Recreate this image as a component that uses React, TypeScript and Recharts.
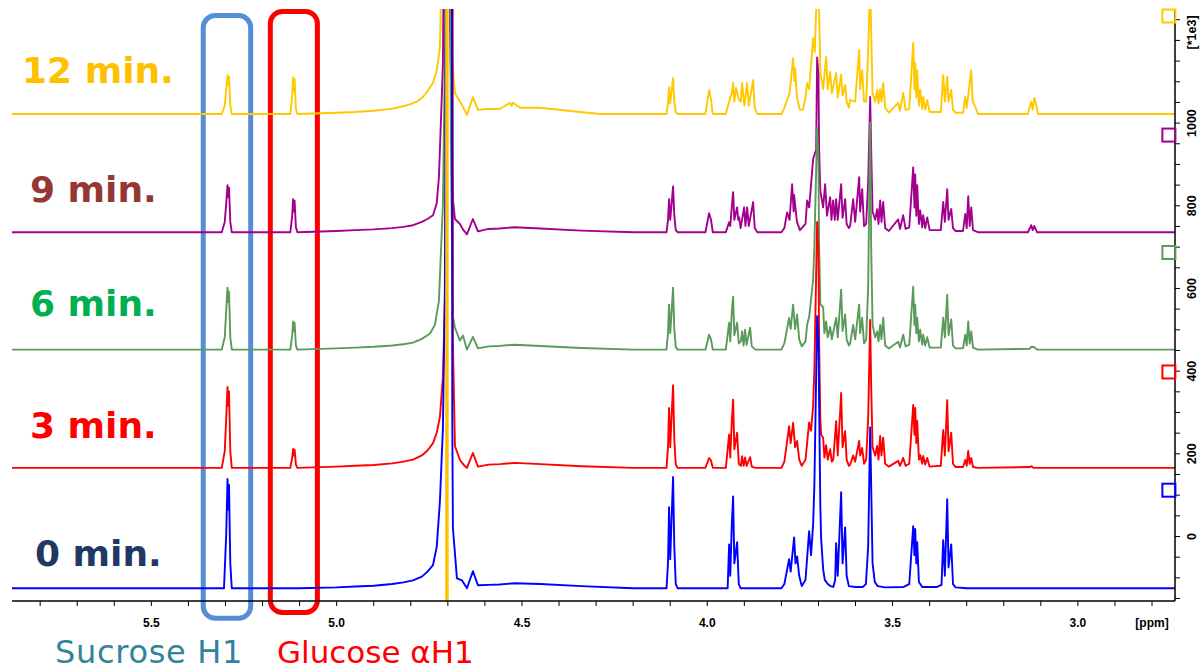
import { LineChart, Line, XAxis, YAxis, ReferenceLine, ReferenceArea, ReferenceDot } from 'recharts';

type Pt = [number, number];

// [ppm, intensity above own baseline] (*1e3)
const SPEC_0MIN: Pt[] = [
  [5.876, 0], [5.5, 0], [5.31, 0], [5.304, 0], [5.298, 130], [5.2945, 264], [5.2925, 190], [5.2905, 250], [5.287, 60], [5.283, 0],
  [5.1, 0], [5.0, 2], [4.95, 4], [4.9, 6], [4.85, 10], [4.82, 14], [4.794, 19], [4.77, 28], [4.755, 40], [4.74, 56], [4.73, 100],
  [4.7214, 210], [4.7133, 387], [4.708, 730], [4.697, 4000], [4.691, 4000],
  [4.688, 400], [4.6863, 145], [4.6755, 24], [4.662, 19], [4.6485, 0], [4.6323, 41], [4.6188, 7], [4.59, 8], [4.56, 9], [4.52, 12], [4.45, 10], [4.34, 5], [4.2, 0],
  [4.13, 0], [4.11, 0], [4.106, 60], [4.1031, 196], [4.1, 70], [4.097, 150], [4.0923, 269], [4.089, 100], [4.085, 10], [4.08, 0],
  [3.96, 0], [3.945, 0], [3.9411, 106], [3.938, 30], [3.934, 150], [3.9303, 222], [3.927, 60], [3.9195, 111], [3.915, 10], [3.91, 0],
  [3.8, 0], [3.792, 10], [3.7792, 70], [3.775, 40], [3.7657, 123], [3.762, 60], [3.7576, 77], [3.752, 30], [3.745, 5],
  [3.735, 20], [3.7252, 138], [3.72, 80], [3.7144, 155], [3.711, 250], [3.7036, 658], [3.7, 600], [3.6982, 450], [3.695, 200], [3.6928, 120],
  [3.6874, 46], [3.683, 20], [3.675, 10], [3.668, 5],
  [3.66, 3], [3.655, 20], [3.6523, 109], [3.648, 30], [3.6388, 232], [3.635, 60], [3.628, 147], [3.624, 30], [3.618, 5], [3.6, 3],
  [3.58, 3], [3.572, 10], [3.5659, 100], [3.5605, 389], [3.5578, 250], [3.554, 60], [3.548, 15], [3.54, 5], [3.52, 2],
  [3.47, 3], [3.455, 10], [3.4444, 150], [3.441, 80], [3.439, 143], [3.436, 60], [3.4336, 111], [3.429, 15], [3.42, 3],
  [3.38, 3], [3.368, 8], [3.3634, 116], [3.359, 30], [3.3526, 215], [3.349, 50], [3.3418, 106], [3.337, 10], [3.33, 2], [3.3, 0], [2.737, 0],
];

const SPEC_3MIN: Pt[] = [
  [5.876, 0], [5.5, 0], [5.31, 0], [5.302, 40], [5.298, 120], [5.2945, 196], [5.2925, 150], [5.2905, 185], [5.287, 40], [5.283, 0],
  [5.125, 0], [5.12, 25], [5.1175, 46], [5.1155, 30], [5.1135, 44], [5.11, 8], [5.106, 0],
  [5.0, 3], [4.95, 5], [4.9, 7], [4.85, 11], [4.82, 15], [4.794, 20], [4.77, 30], [4.755, 42], [4.74, 60], [4.73, 85],
  [4.7214, 123], [4.7133, 220], [4.705, 500], [4.694, 4000], [4.689, 4000], [4.6863, 300],
  [4.6809, 53], [4.6674, 19], [4.655, 5], [4.6485, 0], [4.6323, 36], [4.6188, 3], [4.59, 8], [4.56, 9], [4.52, 12], [4.45, 9], [4.34, 4], [4.2, 0],
  [4.13, 0], [4.11, 0], [4.106, 50], [4.1031, 145], [4.1, 50], [4.097, 110], [4.0923, 200], [4.089, 70], [4.085, 8], [4.08, 0],
  [4.005, 0], [3.9951, 24], [3.99, 18], [3.985, 0],
  [3.95, 0], [3.9411, 80], [3.938, 25], [3.934, 110], [3.9303, 165], [3.927, 45], [3.9195, 85], [3.915, 10],
  [3.9095, 5], [3.906, 28], [3.902, 5], [3.898, 25], [3.894, 5], [3.8844, 26], [3.88, 3], [3.87, 0],
  [3.8, 0], [3.792, 15], [3.7792, 101], [3.775, 60], [3.7684, 109], [3.763, 50], [3.7576, 65], [3.752, 20], [3.745, 5],
  [3.735, 20], [3.7252, 110], [3.72, 90], [3.7144, 150], [3.711, 240], [3.7036, 595], [3.7, 520], [3.6982, 300], [3.695, 120], [3.6928, 80],
  [3.6874, 73], [3.684, 25], [3.6793, 55], [3.675, 20], [3.6685, 45], [3.664, 15], [3.66, 20],
  [3.6523, 113], [3.648, 30], [3.6388, 181], [3.635, 50], [3.628, 89], [3.624, 20], [3.618, 5],
  [3.6145, 8], [3.6064, 30], [3.601, 15], [3.5902, 65], [3.5875, 30], [3.5821, 48], [3.577, 10],
  [3.5713, 20], [3.5659, 120], [3.5605, 358], [3.5578, 200], [3.554, 50], [3.547, 30],
  [3.5416, 53], [3.538, 20], [3.5335, 77], [3.53, 30], [3.5254, 73], [3.52, 10], [3.51, 3],
  [3.4849, 17], [3.48, 5], [3.4714, 24], [3.465, 5],
  [3.455, 10], [3.4444, 152], [3.441, 80], [3.439, 145], [3.436, 60], [3.4336, 114], [3.429, 20],
  [3.4255, 31], [3.42, 10], [3.4174, 29], [3.412, 8], [3.4066, 24], [3.4, 3],
  [3.37, 5], [3.3634, 92], [3.359, 30], [3.3526, 164], [3.349, 40], [3.3418, 85], [3.337, 10], [3.33, 2],
  [3.31, 2], [3.304, 19], [3.3, 5], [3.2959, 41], [3.292, 10], [3.2878, 24], [3.283, 2], [3.27, 0],
  [3.13, 2], [3.125, 4], [3.12, 0], [2.737, 0],
];

const SPEC_6MIN: Pt[] = [
  [5.876, 0], [5.5, 0], [5.31, 0], [5.302, 30], [5.298, 95], [5.2945, 150], [5.2925, 115], [5.2905, 140], [5.287, 30], [5.283, 0],
  [5.125, 0], [5.12, 35], [5.1175, 68], [5.1155, 45], [5.1135, 65], [5.11, 10], [5.106, 0],
  [5.0, 3], [4.95, 5], [4.9, 7], [4.85, 10], [4.82, 13], [4.794, 17], [4.77, 26], [4.748, 39], [4.735, 60], [4.7241, 118],
  [4.7133, 353], [4.708, 700], [4.704, 4000], [4.697, 4000], [4.692, 500],
  [4.6863, 80], [4.6809, 53], [4.6674, 22], [4.6593, 34], [4.6485, 0], [4.6323, 31], [4.6188, 3], [4.59, 8], [4.56, 9], [4.52, 12], [4.45, 9], [4.34, 4], [4.2, 0],
  [4.13, 0], [4.11, 0], [4.106, 40], [4.1031, 109], [4.1, 40], [4.097, 80], [4.0923, 150], [4.089, 50], [4.085, 6], [4.08, 0],
  [4.005, 0], [3.9951, 36], [3.99, 25], [3.985, 0],
  [3.95, 0], [3.9411, 65], [3.938, 20], [3.934, 90], [3.9303, 128], [3.927, 35], [3.9195, 65], [3.915, 15],
  [3.9095, 20], [3.906, 44], [3.902, 10], [3.898, 48], [3.894, 12], [3.8844, 53], [3.88, 8], [3.87, 0],
  [3.8, 0], [3.792, 15], [3.7792, 77], [3.775, 50], [3.7684, 109], [3.763, 50], [3.7576, 85], [3.752, 25], [3.745, 8],
  [3.735, 20], [3.7306, 60], [3.725, 80], [3.7144, 169], [3.711, 250], [3.7036, 537], [3.7, 450], [3.6982, 250], [3.695, 110],
  [3.6874, 102], [3.684, 40], [3.6793, 68], [3.675, 30], [3.6685, 55], [3.664, 25],
  [3.6523, 77], [3.648, 30], [3.6388, 145], [3.635, 45], [3.628, 85], [3.624, 25], [3.618, 10],
  [3.6145, 15], [3.6064, 60], [3.601, 25], [3.5902, 109], [3.5875, 40], [3.5821, 77], [3.577, 15],
  [3.5713, 25], [3.5659, 150], [3.5605, 549], [3.5578, 250], [3.554, 60], [3.547, 30],
  [3.5416, 44], [3.538, 20], [3.5335, 60], [3.53, 25], [3.5254, 77], [3.52, 10], [3.51, 3],
  [3.4849, 19], [3.48, 5], [3.4714, 36], [3.465, 8],
  [3.455, 12], [3.4444, 152], [3.441, 60], [3.439, 109], [3.436, 40], [3.4336, 77], [3.429, 20],
  [3.4255, 48], [3.42, 12], [3.4174, 36], [3.412, 10], [3.4066, 30], [3.4, 5],
  [3.37, 5], [3.3634, 77], [3.359, 30], [3.3526, 133], [3.349, 35], [3.3418, 73], [3.337, 10], [3.33, 3],
  [3.31, 3], [3.304, 36], [3.3, 10], [3.2959, 68], [3.292, 15], [3.2878, 44], [3.283, 5], [3.27, 0],
  [3.13, 2], [3.1258, 7], [3.1177, 6], [3.11, 0], [2.737, 0],
];

const SPEC_9MIN: Pt[] = [
  [5.876, 0], [5.5, 0], [5.31, 0], [5.302, 25], [5.298, 70], [5.2945, 114], [5.2925, 85], [5.2905, 108], [5.287, 25], [5.283, 0],
  [5.125, 0], [5.12, 40], [5.1175, 80], [5.1155, 50], [5.1135, 76], [5.11, 12], [5.106, 0],
  [5.0, 3], [4.95, 5], [4.9, 7], [4.85, 10], [4.82, 13], [4.794, 17], [4.77, 25], [4.755, 32], [4.74, 41], [4.73, 70],
  [4.7241, 133], [4.7133, 404], [4.71, 800], [4.707, 4000], [4.7, 4000], [4.694, 500],
  [4.6863, 80], [4.6809, 32], [4.6674, 20], [4.6593, 7], [4.6485, -5], [4.6323, 32], [4.6188, 2], [4.59, 8], [4.56, 9], [4.52, 12], [4.45, 9], [4.34, 4], [4.2, 0],
  [4.13, 0], [4.11, 0], [4.106, 30], [4.1031, 80], [4.1, 30], [4.097, 60], [4.0923, 111], [4.089, 40], [4.085, 5], [4.08, 0],
  [4.005, 0], [3.9951, 46], [3.99, 30], [3.985, 0],
  [3.95, 0], [3.9411, 24], [3.938, 15], [3.934, 60], [3.9303, 97], [3.927, 30], [3.9195, 60], [3.9165, 30], [3.9141, 36], [3.91, 10],
  [3.9006, 60], [3.897, 15], [3.8925, 60], [3.888, 15], [3.8763, 73], [3.872, 10], [3.865, 0],
  [3.8, 0], [3.792, 10], [3.7846, 48], [3.778, 30], [3.7711, 116], [3.767, 50], [3.7657, 90], [3.758, 25], [3.75, 5],
  [3.735, 20], [3.7306, 77], [3.725, 60], [3.7144, 177], [3.7063, 200], [3.7036, 423], [3.7, 380], [3.6982, 200], [3.695, 100],
  [3.6874, 60], [3.682, 116], [3.677, 40], [3.6685, 85], [3.665, 30], [3.6604, 77], [3.656, 30],
  [3.6523, 80], [3.648, 30], [3.6388, 116], [3.635, 35], [3.628, 80], [3.624, 20], [3.618, 10],
  [3.6145, 15], [3.6064, 80], [3.601, 25], [3.5902, 133], [3.5875, 50], [3.5821, 104], [3.577, 15],
  [3.5713, 20], [3.5659, 120], [3.5605, 327], [3.5578, 200], [3.554, 50], [3.547, 30],
  [3.5416, 56], [3.538, 20], [3.5335, 77], [3.53, 25], [3.5254, 73], [3.52, 10], [3.51, 3],
  [3.4849, 31], [3.48, 8], [3.4714, 41], [3.465, 8],
  [3.455, 12], [3.4444, 157], [3.441, 60], [3.439, 140], [3.436, 40], [3.4336, 114], [3.429, 20],
  [3.4255, 53], [3.42, 12], [3.4174, 41], [3.412, 10], [3.4066, 36], [3.4, 5],
  [3.37, 5], [3.3634, 73], [3.359, 25], [3.3526, 104], [3.349, 30], [3.3418, 56], [3.337, 10], [3.33, 3],
  [3.31, 3], [3.304, 44], [3.3, 10], [3.2959, 87], [3.292, 15], [3.2878, 60], [3.283, 5], [3.27, 0],
  [3.135, 0], [3.1258, 17], [3.122, 5], [3.1177, 15], [3.11, 0], [2.737, 0],
];

const SPEC_12MIN: Pt[] = [
  [5.876, 0], [5.5, 0], [5.31, 0], [5.302, 20], [5.298, 60], [5.2945, 94], [5.2925, 70], [5.2905, 90], [5.287, 20], [5.283, 0],
  [5.125, 0], [5.12, 45], [5.1175, 89], [5.1155, 55], [5.1135, 85], [5.11, 12], [5.106, 0],
  [5.0, 3], [4.95, 5], [4.9, 8], [4.85, 13], [4.8294, 17], [4.8, 24], [4.78, 32], [4.7673, 41], [4.755, 55], [4.7403, 75], [4.73, 105],
  [4.7214, 162], [4.716, 400], [4.712, 4000], [4.7, 4000], [4.695, 600],
  [4.69, 150], [4.6809, 51], [4.662, 22], [4.6485, -2], [4.6323, 41], [4.6188, 10], [4.595, 12], [4.56, 12], [4.5324, 27], [4.528, 20],
  [4.5243, 27], [4.5054, 15], [4.4514, 15], [4.3434, 5], [4.29, 0],
  [4.13, 0], [4.11, 0], [4.106, 25], [4.1031, 65], [4.1, 25], [4.097, 50], [4.0923, 87], [4.089, 30], [4.085, 5], [4.08, 0],
  [4.005, 0], [3.9951, 58], [3.99, 35], [3.985, 0],
  [3.95, 0], [3.9411, 30], [3.938, 39], [3.934, 50], [3.9303, 75], [3.927, 30], [3.9222, 63], [3.915, 35],
  [3.9095, 30], [3.906, 75], [3.9, 20], [3.8925, 75], [3.888, 20], [3.8763, 82], [3.872, 15], [3.865, 0],
  [3.8, 0], [3.792, 15], [3.7846, 34], [3.778, 50], [3.7684, 135], [3.765, 80], [3.763, 111], [3.758, 40], [3.75, 10],
  [3.742, 10], [3.735, 40], [3.7306, 75], [3.725, 60], [3.7144, 184], [3.71, 150], [3.7036, 320], [3.7, 320], [3.6982, 250], [3.695, 100],
  [3.6874, 60], [3.6793, 138], [3.675, 60], [3.6685, 102], [3.664, 50], [3.6523, 99], [3.648, 40], [3.6388, 95], [3.635, 45],
  [3.628, 70], [3.624, 30], [3.618, 15],
  [3.6145, 34], [3.601, 30], [3.5902, 155], [3.5875, 60], [3.5821, 106], [3.577, 30],
  [3.5713, 30], [3.5659, 150], [3.5605, 320], [3.5578, 200], [3.554, 50], [3.547, 30],
  [3.5416, 58], [3.538, 25], [3.5335, 60], [3.53, 30], [3.5254, 75], [3.52, 15], [3.51, 3],
  [3.4849, 27], [3.48, 8], [3.4714, 51], [3.465, 10],
  [3.455, 12], [3.4444, 172], [3.441, 60], [3.439, 123], [3.436, 40], [3.4336, 106], [3.429, 20],
  [3.4255, 58], [3.42, 12], [3.4174, 41], [3.412, 10], [3.4066, 34], [3.4, 5],
  [3.37, 5], [3.3634, 94], [3.359, 30], [3.3526, 90], [3.349, 30], [3.3418, 58], [3.337, 10], [3.33, 3],
  [3.31, 3], [3.304, 41], [3.3, 15], [3.2878, 106], [3.284, 30], [3.278, 20], [3.27, 0],
  [3.135, 0], [3.1258, 30], [3.122, 10], [3.1177, 39], [3.113, 25], [3.108, 0], [2.737, 0],
];

// stacking offsets of each trace on the right-hand scale
const OFFSETS = { m12: 1022, m9: 736, m6: 452, m3: 166, m0: -125 };
// level of the little marker square at the right edge of each trace
const MARKER_LEVELS = { m12: 1259, m9: 971, m6: 687, m3: 398, m0: 112 };

const TIME_LABELS = ['12 min.', '9 min.', '6 min.', '3 min.', '0 min.'];

const X_TICKS = [5.8, 5.7, 5.6, 5.5, 5.4, 5.3, 5.2, 5.1, 5.0, 4.9, 4.8, 4.7, 4.6, 4.5, 4.4, 4.3, 4.2, 4.1, 4.0, 3.9, 3.8, 3.7, 3.6, 3.5, 3.4, 3.3, 3.2, 3.1, 3.0, 2.9, 2.8];
const X_LABELS: Record<string, string> = { '5.5': '5.5', '5.0': '5.0', '4.5': '4.5', '4.0': '4.0', '3.5': '3.5', '3.0': '3.0', '2.8': '[ppm]' };
const Y_TICKS = [-150, -100, -50, 0, 50, 100, 150, 200, 250, 300, 350, 400, 450, 500, 550, 600, 650, 700, 750, 800, 850, 900, 950, 1000, 1050, 1100, 1150, 1200, 1250];
const Y_LABELS: Record<string, string> = { '0': '0', '200': '200', '400': '400', '600': '600', '800': '800', '1000': '1000', '1200': '[*1e3]' };

const X_DOMAIN: [number, number] = [2.738, 5.876];
const Y_DOMAIN: [number, number] = [-156, 1276];

const SUCROSE_BOX = { x1: 5.36, x2: 5.232, y1: -198, y2: 1260 };
const GLUCOSE_BOX = { x1: 5.179, x2: 5.052, y1: -184, y2: 1270 };
const WATER_PPM = 4.7025;

const toRows = (pts: Pt[], off: number) => pts.map(([ppm, v]) => ({ ppm, v: v + off }));

const TRACES = [
  { id: 'm12', pts: SPEC_12MIN, color: '#FFC800' },
  { id: 'm9', pts: SPEC_9MIN, color: '#A3008F' },
  { id: 'm6', pts: SPEC_6MIN, color: '#5A9A5A' },
  { id: 'm3', pts: SPEC_3MIN, color: '#FF0000' },
  { id: 'm0', pts: SPEC_0MIN, color: '#0000FF' },
] as const;

const LABEL_STYLE = [
  { color: '#FFC000', left: 22, baseline: 83 },
  { color: '#953735', left: 30, baseline: 202 },
  { color: '#00B050', left: 30, baseline: 316 },
  { color: '#FF0000', left: 30, baseline: 438 },
  { color: '#1F3864', left: 35, baseline: 566 },
];

const AXIS_FONT = '"Liberation Sans", Arial, sans-serif';
const TEXT_FONT = '"DejaVu Sans", Verdana, sans-serif';

function YTick(props: any) {
  const { x, y, payload } = props;
  const label = Y_LABELS[String(payload.value)];
  if (!label) return <g />;
  const cx = x + 10;
  const cy = payload.value === 1200 ? y - 8 : y;
  return (
    <text
      x={cx}
      y={cy}
      transform={`rotate(-90, ${cx}, ${cy})`}
      textAnchor="middle"
      dominantBaseline="central"
      fontSize={12.5}
      fontWeight="bold"
      fontFamily={AXIS_FONT}
      fill="#000"
    >
      {label}
    </text>
  );
}

const roundBox = (color: string) => (p: any) => (
  <rect x={p.x} y={p.y} width={p.width} height={p.height} rx={12} ry={12} fill="none" stroke={color} strokeWidth={5} />
);

const marker = (color: string) => (p: any) => (
  <rect x={p.cx - 6.5} y={p.cy - 6.5} width={13} height={13} fill="none" stroke={color} strokeWidth={2} />
);

export default function App() {
  return (
    <div style={{ position: 'absolute', left: 0, top: 0, width: 1201, height: 671, background: '#fff', overflow: 'hidden' }}>
      <LineChart width={1201} height={671} margin={{ top: 9, right: 0, left: 12, bottom: 0 }}>
        <XAxis
          dataKey="ppm"
          type="number"
          domain={X_DOMAIN}
          reversed
          allowDataOverflow
          ticks={X_TICKS}
          interval={0}
          height={70}
          tickSize={5}
          tickMargin={12}
          tickLine={{ stroke: '#000' }}
          axisLine={{ stroke: '#000', strokeWidth: 1.5 }}
          tick={{ fontSize: 12, fontWeight: 'bold', fill: '#000', fontFamily: AXIS_FONT }}
          tickFormatter={(v: number) => X_LABELS[v.toFixed(1)] ?? ''}
        />
        <XAxis
          xAxisId="top"
          orientation="top"
          type="number"
          domain={X_DOMAIN}
          reversed
          allowDataOverflow
          height={0}
          tick={false}
          tickLine={false}
          axisLine={{ stroke: '#555', strokeWidth: 1.5 }}
        />
        <YAxis
          orientation="right"
          type="number"
          domain={Y_DOMAIN}
          allowDataOverflow
          ticks={Y_TICKS}
          interval={0}
          width={26}
          tickSize={5}
          tickLine={{ stroke: '#000' }}
          axisLine={{ stroke: '#000', strokeWidth: 1.5 }}
          tick={<YTick />}
        />
        <YAxis
          yAxisId="left"
          orientation="left"
          type="number"
          domain={Y_DOMAIN}
          allowDataOverflow
          width={0}
          tick={false}
          tickLine={false}
          axisLine={{ stroke: '#000', strokeWidth: 1 }}
        />
        {TRACES.map((t) => (
          <Line
            key={t.id}
            data={toRows(t.pts as unknown as Pt[], OFFSETS[t.id])}
            dataKey="v"
            type="linear"
            stroke={t.color}
            strokeWidth={1.9}
            strokeLinejoin="round"
            dot={false}
            isAnimationActive={false}
          />
        ))}
        <ReferenceLine x={WATER_PPM} stroke="#FFC000" strokeWidth={3.5} />
        {TRACES.map((t) => (
          <ReferenceDot
            key={'mk' + t.id}
            x={2.7545}
            y={MARKER_LEVELS[t.id]}
            r={6}
            ifOverflow="visible"
            shape={marker(t.color)}
          />
        ))}
        <ReferenceArea {...SUCROSE_BOX} ifOverflow="visible" shape={roundBox('#558ED5')} />
        <ReferenceArea {...GLUCOSE_BOX} ifOverflow="visible" shape={roundBox('#FF0000')} />
      </LineChart>
      {TIME_LABELS.map((txt, i) => (
        <div
          key={txt}
          style={{
            position: 'absolute',
            left: LABEL_STYLE[i].left,
            top: LABEL_STYLE[i].baseline - 0.846 * 36,
            fontFamily: TEXT_FONT,
            fontWeight: 'bold',
            fontSize: 36,
            lineHeight: 1,
            color: LABEL_STYLE[i].color,
            whiteSpace: 'nowrap',
          }}
        >
          {txt}
        </div>
      ))}
      <div
        style={{
          position: 'absolute', left: 55, top: 663 - 0.846 * 32, fontFamily: TEXT_FONT,
          fontSize: 32, letterSpacing: 0.7, lineHeight: 1, color: '#31849B', whiteSpace: 'nowrap',
        }}
      >
        Sucrose H1
      </div>
      <div
        style={{
          position: 'absolute', left: 277, top: 663 - 0.846 * 31, fontFamily: TEXT_FONT,
          fontSize: 31, lineHeight: 1, color: '#FF0000', whiteSpace: 'nowrap',
        }}
      >
        Glucose αH1
      </div>
    </div>
  );
}
